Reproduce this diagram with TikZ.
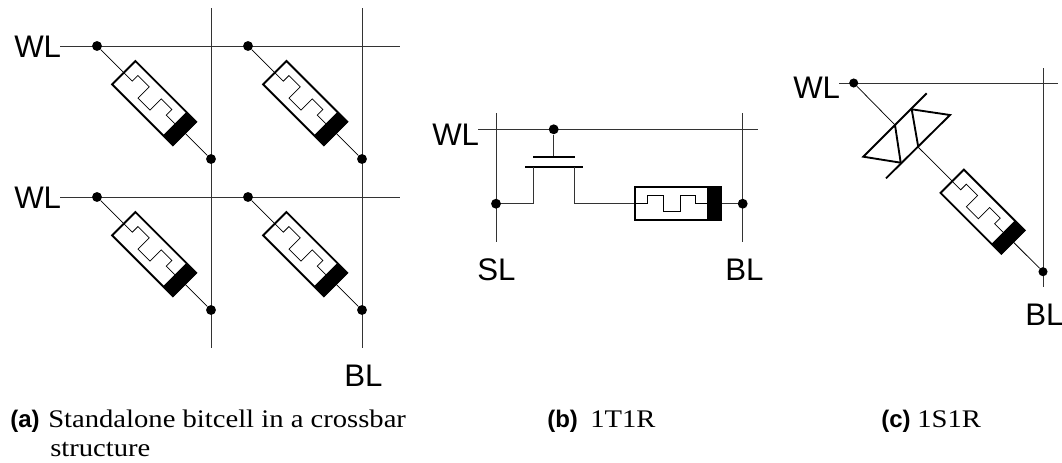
\documentclass[tikz,border=0pt]{standalone}
\usepackage{fontspec}
\setmainfont{Liberation Sans}
\newfontfamily\capserif[FakeStretch=1.13]{Liberation Serif}
\tikzset{
  wire/.style={line width=0.7pt,black!80},
  thinw/.style={line width=0.55pt,black},
  dot/.style={circle,fill=black,inner sep=0pt,minimum size=7.4pt},
  lab/.style={font=\fontsize{23.4}{24}\selectfont,inner sep=0pt,anchor=base west},
  captag/.style={font=\fontsize{18}{20}\selectfont\bfseries,inner sep=0pt,anchor=base west},
  captxt/.style={font=\fontsize{19}{22}\selectfont\capserif,inner sep=0pt,anchor=base west},
  heavy/.style={line width=1.4pt,black},
  memr/.pic={
    \draw[heavy,fill=white] (0,-16.5) rectangle (86,16.5);
    \fill[black] (72,-17) rectangle (86.5,17);
    \draw[thinw] (0,0) -| (12,-8) -| (28,8) -| (45,-8) -| (60,0) -- (72,0);
  }
}
\begin{document}
\begin{tikzpicture}[x=0.75pt,y=-0.75pt]
\useasboundingbox (0,0) rectangle (1062,462);
% ---------- panel a
\node[lab] (wla) at (14,57) {WL};
\node[lab] (wlb) at (14,208) {WL};
\node[lab] (bla) at (344,386.7) {BL};
\coordinate (a1l) at (60,46); \coordinate (a1r) at (400,46);
\coordinate (a2l) at (60,197); \coordinate (a2r) at (400,197);
\coordinate (v1t) at (211,8); \coordinate (v1b) at (211,348);
\coordinate (v2t) at (362,8); \coordinate (v2b) at (362,348);
\draw[wire] (a1l) -- (a1r);
\draw[wire] (a2l) -- (a2r);
\draw[wire] (v1t) -- (v1b);
\draw[wire] (v2t) -- (v2b);
\node[dot] (d11) at (97,46) {};
\node[dot] (d12) at (248,46) {};
\node[dot] (d21) at (97,197) {};
\node[dot] (d22) at (248,197) {};
\node[dot] (e11) at (211,159) {};
\node[dot] (e12) at (362,159) {};
\node[dot] (e21) at (211,310) {};
\node[dot] (e22) at (362,310) {};
\draw[thinw] (d11) -- (e11);
\draw[thinw] (d12) -- (e12);
\draw[thinw] (d21) -- (e21);
\draw[thinw] (d22) -- (e22);
\pic[rotate=-45] at (123.8,72.7) {memr};
\pic[rotate=-45] at (274.8,72.7) {memr};
\pic[rotate=-45] at (123.8,223.7) {memr};
\pic[rotate=-45] at (274.8,223.7) {memr};
% ---------- panel b
\node[lab] (wlc) at (432,145) {WL};
\node[lab] (sl) at (477,280) {SL};
\node[lab] (blb) at (725,280) {BL};
\coordinate (b1l) at (478,129.3); \coordinate (b1r) at (758,129.3);
\coordinate (s1t) at (496,113); \coordinate (s1b) at (496,242);
\coordinate (s2t) at (742.7,113); \coordinate (s2b) at (742.7,242);
\draw[wire] (b1l) -- (b1r);
\draw[wire] (s1t) -- (s1b);
\draw[wire] (s2t) -- (s2b);
\node[dot] (gd) at (553.7,129.3) {};
\node[dot] (sd) at (496,203.7) {};
\node[dot] (bd) at (742.7,203.7) {};
\coordinate (gate) at (553.7,157.3);
\coordinate (gl) at (533.3,157.3); \coordinate (gr) at (575,157.3);
\coordinate (cl) at (525,166.7); \coordinate (cr) at (583.3,166.7);
\coordinate (sc) at (533.7,166.7); \coordinate (dc) at (574.3,166.7);
\coordinate (mem) at (635,203.7);
\draw[wire] (gd) -- (gate);
\draw[heavy] (gl) -- (gr);
\draw[heavy] (cl) -- (cr);
\draw[wire] (sd) -| (sc);
\draw[wire] (mem) -| (dc);
\draw[wire] (mem) -- (bd);
\pic at (mem) {memr};
% ---------- panel c
\node[lab] (wld) at (793,98) {WL};
\node[lab] (blc) at (1025,325) {BL};
\coordinate (c1l) at (839,83); \coordinate (c1r) at (1058,83);
\coordinate (c2t) at (1043,68); \coordinate (c2b) at (1043,287);
\draw[wire] (c1l) -- (c1r);
\draw[wire] (c2t) -- (c2b);
\node[dot,minimum size=6.8pt] (cd) at (853.7,83) {};
\node[dot,minimum size=6.8pt] (ce) at (1043,271.7) {};
\coordinate (a1) at (926.7,93.3); \coordinate (a2) at (863.3,156.7);
\coordinate (b1) at (950,115); \coordinate (b2) at (886,178.3);
\coordinate (ta) at (895,125); \coordinate (tb) at (900.7,162.7);
\coordinate (ua) at (911.7,109.3); \coordinate (ub) at (918.3,147.3);
\draw[thinw] (cd) -- (ta);
\draw[thinw] (ub) -- (ce);
\draw[heavy] (a1) -- (a2) -- (tb) -- (ta);
\draw[heavy] (b2) -- (b1) -- (ua) -- (ub);
\pic[rotate=-45] at (952.2,181.3) {memr};
% ---------- captions
\node[captag] (ca) at (10,427) {(a)};
\node[captxt] (cat) at (48,427) {Standalone bitcell in a crossbar};
\node[captxt] (cat2) at (50,456.7) {structure};
\node[captag] (cb) at (547,427) {(b)};
\node[captxt] (cbt) at (590,427) {1T1R};
\node[captag] (cc) at (881,427) {(c)};
\node[captxt] (cct) at (917,427) {1S1R};
\end{tikzpicture}
\end{document}
